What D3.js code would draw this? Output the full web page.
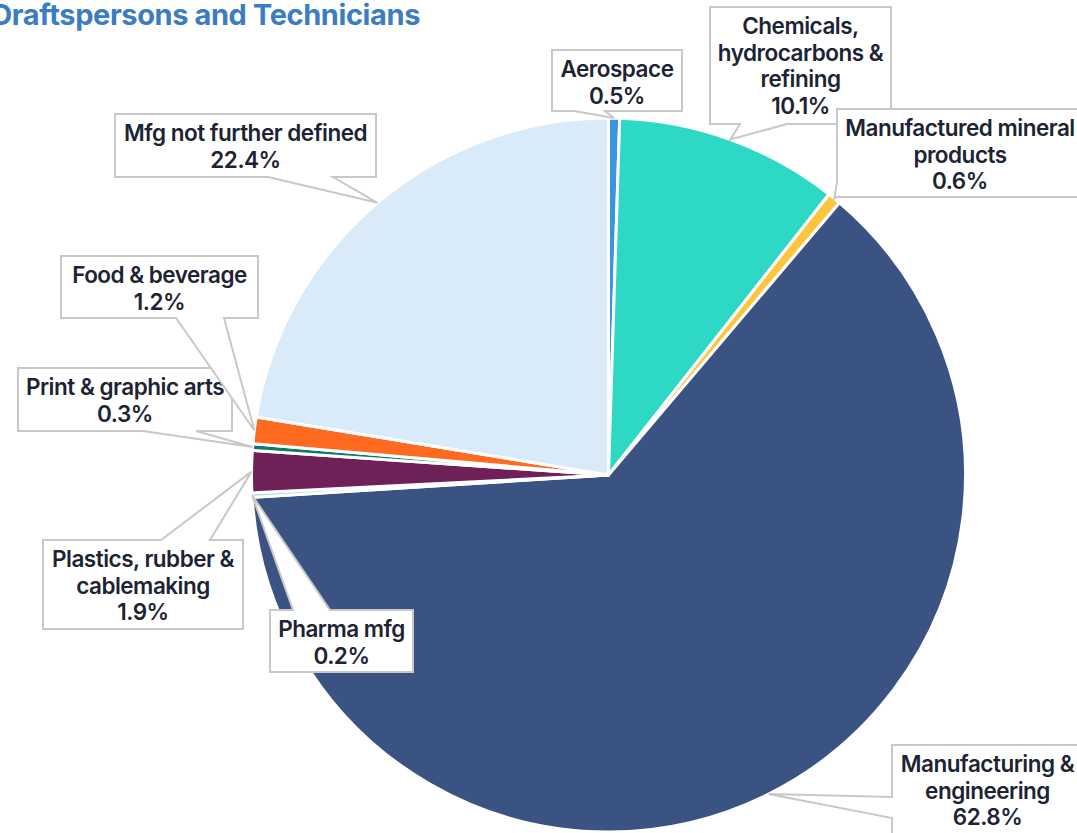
<!DOCTYPE html>
<html>
<head>
<meta charset="utf-8">
<script src="https://cdn.jsdelivr.net/npm/d3@7"></script>
<style>
  html, body { margin: 0; padding: 0; background: #ffffff; overflow: hidden; }
  svg { display: block; }
</style>
</head>
<body>
<script>
// ---- Data ----
const title = "Draftspersons and Technicians";
const categories = [
  "Aerospace",
  "Chemicals, hydrocarbons & refining",
  "Manufactured mineral products",
  "Manufacturing & engineering",
  "Pharma mfg",
  "Plastics, rubber & cablemaking",
  "Print & graphic arts",
  "Food & beverage",
  "Mfg not further defined"
];
const labelLines = [
  ["Aerospace"],
  ["Chemicals,", "hydrocarbons &", "refining"],
  ["Manufactured mineral", "products"],
  ["Manufacturing &", "engineering"],
  ["Pharma mfg"],
  ["Plastics, rubber &", "cablemaking"],
  ["Print & graphic arts"],
  ["Food & beverage"],
  ["Mfg not further defined"]
];
const shares = [0.5, 10.1, 0.6, 62.8, 0.2, 1.9, 0.3, 1.2, 22.4];
const colors = ["#3b95dc", "#2dd9c4", "#fbc53c", "#3b5382", "#b4d9d6", "#6e2057", "#0e7b68", "#ff6a21", "#d9eaf8"];

// ---- Layout of callout boxes: [x0, y0, x1, y1], tail side, tail base range ----
const boxes = [
  [552, 50, 682, 111],
  [710, 7, 891, 124],
  [837, 109, 1083, 197],
  [892, 745, 1083, 870],
  [270, 610, 413, 672],
  [43, 540, 243, 629],
  [18, 368, 232, 431],
  [61, 256, 258, 318],
  [115, 114, 376, 177]
];
const tailSide = ["bottom", "bottom", "left", "left", "top", "top", "bottom", "bottom", "bottom"];
const tailBase = [[574, 605], [740, 787], [182, 197], [797, 818], [293, 330], [161, 210], [143, 196], [176, 224], [268, 333]];

const W = 1077, H = 833;
const cx = 608.5, cy = 475, R = 357;

const svg = d3.select("body").append("svg").attr("width", W).attr("height", H);

// Title
svg.append("text")
  .attr("x", 420).attr("y", 25)
  .attr("text-anchor", "end")
  .attr("font-family", "Inter, 'Noto Sans', sans-serif")
  .attr("font-weight", 700)
  .attr("font-size", 29)
  .attr("letter-spacing", -0.4)
  .attr("fill", "#3b7cc2")
  .text(title);

const data = categories.map((c, i) => ({ name: c, value: shares[i], i }));
const pie = d3.pie().value(d => d.value).sort(null).startAngle(0).endAngle(2 * Math.PI);
const arcs = pie(data);
const arc = d3.arc().innerRadius(0).outerRadius(R);
const edgeArc = d3.arc().innerRadius(R).outerRadius(R);

const g = svg.append("g").attr("transform", `translate(${cx},${cy})`);
g.selectAll("path.slice").data(arcs).join("path")
  .attr("class", "slice")
  .attr("d", arc)
  .attr("fill", d => colors[d.data.i])
  .attr("stroke", "#ffffff")
  .attr("stroke-width", 3)
  .attr("stroke-linejoin", "round");

// Callouts
function calloutPath(b, side, base, tip) {
  const [x0, y0, x1, y1] = b;
  const p = [];
  p.push([x0, y0]);
  if (side === "top") { p.push([base[0], y0], tip, [base[1], y0]); }
  p.push([x1, y0]);
  p.push([x1, y1]);
  if (side === "bottom") { p.push([base[1], y1], tip, [base[0], y1]); }
  p.push([x0, y1]);
  if (side === "left") { p.push([x0, base[1]], tip, [x0, base[0]]); }
  return "M" + p.map(q => q[0] + "," + q[1]).join("L") + "Z";
}

const callouts = svg.append("g");
arcs.forEach(a => {
  const i = a.data.i;
  const c = edgeArc.centroid(a);
  const tip = [cx + c[0], cy + c[1]];
  callouts.append("path")
    .attr("d", calloutPath(boxes[i], tailSide[i], tailBase[i], tip))
    .attr("fill", "#ffffff")
    .attr("stroke", "#c8c8c8")
    .attr("stroke-width", 2)
    .attr("stroke-linejoin", "miter");
  const b = boxes[i];
  const lines = labelLines[i].concat([d3.format(".1f")(a.data.value) + "%"]);
  const t = callouts.append("text")
    .attr("text-anchor", "middle")
    .attr("font-family", "Inter, 'Noto Sans', sans-serif")
    .attr("font-weight", 600)
    .attr("font-size", 22.5)
    .attr("letter-spacing", -0.5)
    .attr("fill", "#1c2434");
  lines.forEach((ln, k) => {
    t.append("tspan")
      .attr("x", (b[0] + b[2]) / 2)
      .attr("y", b[1] + 27 + k * 26.5)
      .text(ln);
  });
});
</script>
</body>
</html>
